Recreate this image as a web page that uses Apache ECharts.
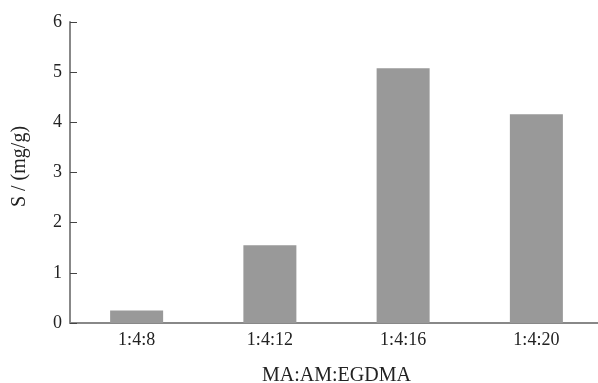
<!DOCTYPE html>
<html><head><meta charset="utf-8">
<script src="https://cdn.jsdelivr.net/npm/echarts@6/dist/echarts.min.js"></script>
<style>html,body{margin:0;padding:0;background:#fff}#c{width:598px;height:383px}</style>
</head><body><div id="c"></div>
<script>
const categories = ['1:4:8','1:4:12','1:4:16','1:4:20'];
const values = [0.25, 1.55, 5.08, 4.16];
const yTicks = [0,1,2,3,4,5,6];
const font = '"Liberation Serif", "Times New Roman", serif';
const chart = echarts.init(document.getElementById('c'));
chart.setOption({
  animation:false,
  grid:{left:70,width:533,top:22,bottom:60,containLabel:false,outerBoundsMode:'none'},
  xAxis:{type:'category',data:categories,name:'MA:AM:EGDMA',nameLocation:'middle',nameGap:43,
    nameTextStyle:{fontFamily:font,fontSize:20,color:'#222'},
    axisLine:{lineStyle:{color:'#888',width:2}},
    axisTick:{inside:true,length:6,lineStyle:{color:'#444'}},
    axisLabel:{fontFamily:font,fontSize:18,color:'#222',margin:8}},
  yAxis:{type:'value',min:0,max:6,interval:1,name:'S / (mg/g)',nameLocation:'middle',nameGap:40,
    nameTextStyle:{fontFamily:font,fontSize:20,color:'#222',padding:[0,0,0,12]},
    axisLine:{show:true,lineStyle:{color:'#888',width:2}},
    axisTick:{show:true,inside:true,length:7,lineStyle:{color:'#444'}},
    splitLine:{show:false},
    axisLabel:{fontFamily:font,fontSize:18,color:'#222',margin:8,formatter:v=>yTicks.includes(v)?String(v):''}},
  series:[{type:'bar',data:values,barWidth:53,itemStyle:{color:'#999999'}}]
});
</script></body></html>
